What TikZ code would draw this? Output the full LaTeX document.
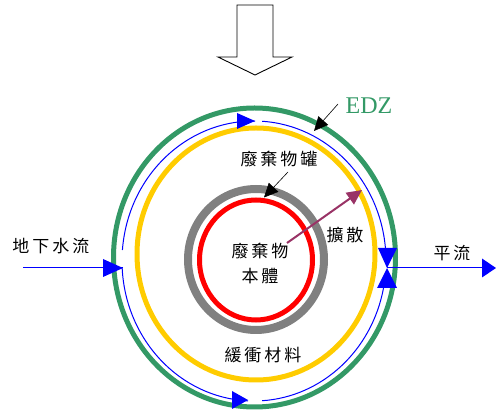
\documentclass[tikz,border=0pt]{standalone}
\usepackage{fontspec}
\newfontfamily\cjk{Noto Sans CJK TC}
\newfontfamily\edzfont{Liberation Serif}
\usetikzlibrary{arrows.meta}
\definecolor{edzgreen}{RGB}{51,153,102}
\definecolor{buffery}{RGB}{255,204,0}
\definecolor{canister}{RGB}{128,128,128}
\definecolor{diffp}{RGB}{153,51,102}
\newcommand\cg{\hspace{3pt}}
\begin{document}
\begin{tikzpicture}[x=1pt,y=1pt,
  lbl/.style={inner sep=0pt, text=black, font=\cjk\fontsize{17}{17}\selectfont},
  flow/.style={blue, line width=1pt},
  tri/.style={fill=blue, draw=none},
  ptr/.style={black, line width=0.6pt, -{Triangle[length=14pt,width=13pt]}},
  ring/.style={draw, fill=none}]
\useasboundingbox (0,0) rectangle (496,415);

% big hollow arrow at the top
\draw[black, line width=0.9pt, line join=miter]
  (237,410) -- (273,410) -- (273,358) -- (292,358) -- (255,340) -- (218,358) -- (237,358) -- cycle;

% rings
\draw[ring, edzgreen, line width=5pt] (254.5,157.5) ellipse [x radius=141pt, y radius=149.5pt];
\draw[ring, buffery, line width=5pt] (256,161) ellipse [x radius=119pt, y radius=126pt];
\draw[ring, canister, line width=8pt] (256,155.5) ellipse [x radius=68pt, y radius=70.5pt];
\draw[ring, red, line width=5pt] (256,155) ellipse [x radius=56.5pt, y radius=60pt];

% groundwater flow path around the buffer
\coordinate (bc) at (254,154);
\draw[flow] ([shift={(175.5:132pt and 140pt)}]bc) arc[start angle=175.5, end angle=89.5, x radius=132pt, y radius=140pt];
\draw[flow] ([shift={(86.5:132pt and 140pt)}]bc) arc[start angle=86.5, end angle=5.3, x radius=132pt, y radius=140pt];
\draw[flow] ([shift={(182.9:132pt and 140pt)}]bc) arc[start angle=182.9, end angle=267.4, x radius=132pt, y radius=140pt];
\draw[flow] ([shift={(273.5:132pt and 140pt)}]bc) arc[start angle=273.5, end angle=348.9, x radius=132pt, y radius=140pt];

% inflow on the left
\coordinate (inL) at (23,147);
\coordinate (tipL) at (123,147);
\draw[flow] (inL) -- (tipL);
\fill[tri] (103,156) -- (103,138) -- (tipL) -- cycle;

% arrows on the path
\fill[tri] (237,302) -- (237,286) -- (255,294) -- cycle;
\fill[tri] (232,24) -- (232,6) -- (248,15) -- cycle;

% outflow on the right
\coordinate (meet) at (387,147);
\coordinate (outR) at (496,147);
\draw[flow] (meet) -- (483,147);
\fill[tri] (378,167) -- (397,167) -- (meet) -- cycle;
\fill[tri] (377,127) -- (397,127) -- (meet) -- cycle;
\fill[tri] (482,156.5) -- (482,137.5) -- (outR) -- cycle;

% labels
\node[lbl] (gw) at (51,169) {地\cg 下\cg 水\cg 流};
\node[lbl] (adv) at (452,162) {平\cg 流};
\node[inner sep=0pt, text=edzgreen, font=\edzfont\fontsize{24}{24}\selectfont] (edz) at (369,309) {EDZ};
\node[lbl] (can) at (279,256) {廢\cg 棄\cg 物\cg 罐};
\node[lbl, align=center] (waste) at (260,151) {廢\cg 棄\cg 物\\[8pt]本\cg 體};
\node[lbl] (diff) at (345,180) {擴\cg 散};
\node[lbl] (buf) at (263,60) {緩\cg 衝\cg 材\cg 料};

% pointers
\coordinate (edzS) at (338,311);
\coordinate (edzT) at (314,284);
\draw[ptr] (edzS) -- (edzT);
\coordinate (canS) at (288,243);
\coordinate (canT) at (264,217.5);
\draw[ptr] (canS) -- (canT);
\coordinate (difS) at (287,172);
\coordinate (difT) at (362,225);
\draw[diffp, line width=2pt, -{Triangle[length=15pt,width=14pt]}] (difS) -- (difT);
\end{tikzpicture}
\end{document}
